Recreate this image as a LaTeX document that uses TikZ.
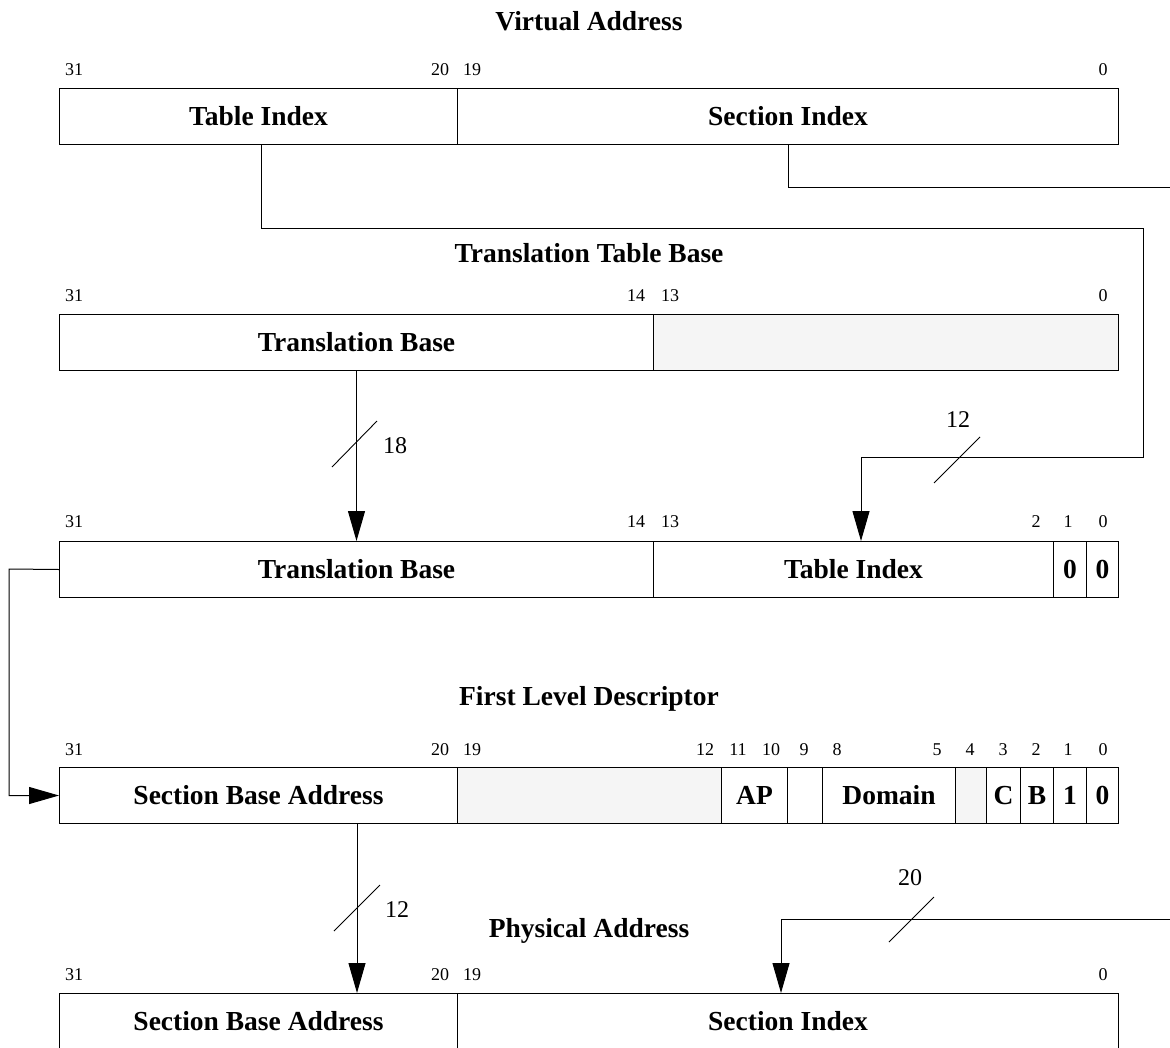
\documentclass[tikz,border=0pt]{standalone}
\usepackage{fontspec}
\setmainfont{Liberation Serif}
\usetikzlibrary{arrows.meta,calc}
\definecolor{fillg}{RGB}{245,245,245}
\begin{document}
\begin{tikzpicture}[x=1pt,y=-1pt,
  field/.style={draw, line width=1pt, minimum height=56pt, inner sep=0pt,
    text height=18pt, text depth=0pt, anchor=north west,
    font=\fontsize{27.5}{30}\selectfont\bfseries},
  grayf/.style={field, fill=fillg},
  bit/.style={anchor=base, inner sep=0pt, font=\fontsize{18}{20}\selectfont},
  title/.style={anchor=base, inner sep=0pt, font=\fontsize{27.5}{30}\selectfont\bfseries},
  bus/.style={anchor=base, inner sep=0pt, font=\fontsize{24}{28}\selectfont},
  conn/.style={line width=1pt},
  arr/.style={line width=1pt, -{Triangle[length=30pt,width=17pt]}},
  slash/.style={line width=0.9pt}]
\useasboundingbox (0,0) rectangle (1170,1047);

% ---------- titles
\node[title] (t1) at (589,30) {Virtual Address};
\node[title] (t2) at (589,262) {Translation Table Base};
\node[title] (t4) at (589,705) {First Level Descriptor};
\node[title] (t5) at (589,937) {Physical Address};

% ---------- row 1 : virtual address
\node[field, minimum width=398pt] (A1) at (59,88) {Table Index};
\node[field, minimum width=661pt] (A2) at (457,88) {Section Index};
\node[bit] (a31) at (74,75) {31};
\node[bit] (a20) at (440,75) {20};
\node[bit] (a19) at (472,75) {19};
\node[bit] (a0) at (1103,75) {0};

% ---------- row 2 : translation table base
\node[field, minimum width=594pt] (B1) at (59,314) {Translation Base};
\node[grayf, minimum width=465pt] (B2) at (653,314) {};
\node[bit] (b31) at (74,301) {31};
\node[bit] (b14) at (636,301) {14};
\node[bit] (b13) at (670,301) {13};
\node[bit] (b0) at (1103,301) {0};

% ---------- row 3
\node[field, minimum width=594pt] (C1) at (59,541) {Translation Base};
\node[field, minimum width=400pt] (C2) at (653,541) {Table Index};
\node[field, minimum width=33pt] (C3) at (1053,541) {0};
\node[field, minimum width=32pt] (C4) at (1086,541) {0};
\node[bit] (c31) at (74,527) {31};
\node[bit] (c14) at (636,527) {14};
\node[bit] (c13) at (670,527) {13};
\node[bit] (c2) at (1036,527) {2};
\node[bit] (c1) at (1068,527) {1};
\node[bit] (c0) at (1103,527) {0};

% ---------- row 4 : first level descriptor
\node[field, minimum width=398pt] (D1) at (59,767) {Section Base Address};
\node[grayf, minimum width=264pt] (D2) at (457,767) {};
\node[field, minimum width=66pt] (D3) at (721,767) {AP};
\node[field, minimum width=35pt] (D4) at (787,767) {};
\node[field, minimum width=133pt] (D5) at (822,767) {Domain};
\node[grayf, minimum width=31pt] (D6) at (955,767) {};
\node[field, minimum width=34pt] (D7) at (986,767) {C};
\node[field, minimum width=33pt] (D8) at (1020,767) {B};
\node[field, minimum width=33pt] (D9) at (1053,767) {1};
\node[field, minimum width=32pt] (D10) at (1086,767) {0};
\node[bit] (d31) at (74,755) {31};
\node[bit] (d20) at (440,755) {20};
\node[bit] (d19) at (472,755) {19};
\node[bit] (d12) at (705,755) {12};
\node[bit] (d11) at (738,755) {11};
\node[bit] (d10) at (771,755) {10};
\node[bit] (d9) at (804,755) {9};
\node[bit] (d8) at (837,755) {8};
\node[bit] (d5) at (937,755) {5};
\node[bit] (d4) at (970,755) {4};
\node[bit] (d3) at (1003,755) {3};
\node[bit] (d2) at (1036,755) {2};
\node[bit] (d1) at (1068,755) {1};
\node[bit] (d0) at (1103,755) {0};

% ---------- row 5 : physical address
\node[field, minimum width=398pt] (E1) at (59,993) {Section Base Address};
\node[field, minimum width=661pt] (E2) at (457,993) {Section Index};
\node[bit] (e31) at (74,980) {31};
\node[bit] (e20) at (440,980) {20};
\node[bit] (e19) at (472,980) {19};
\node[bit] (e0) at (1103,980) {0};

% ---------- connectors
\coordinate (p1) at (261,228);
\coordinate (p2) at (1143,228);
\coordinate (p3) at (1143,457);
\coordinate (p4) at (861,457);
\draw[arr] (A1.south -| p1) -- (p1) -- (p2) -- (p3) -- (p4) -- (C2.north -| p4);

\coordinate (q1) at (1180,187);
\draw[conn] (A2.south) |- (q1);

\draw[arr] (B1.south) -- (C1.north -| B1.south);

\coordinate (l1) at (9,569);
\draw[arr] (C1.west) -- (l1) |- (D1.west);

\coordinate (s1) at (357,823);
\draw[arr] (D1.south -| s1) -- (E1.north -| s1);

\coordinate (q2) at (1180,919);
\coordinate (q3) at (781,919);
\draw[arr] (q2) -- (q3) -- (E2.north -| q3);

% ---------- bus width marks
\draw[slash] (332,467) -- (377,421);
\node[bus] (n18) at (395,453) {18};
\draw[slash] (934,483) -- (980,437);
\node[bus] (n12a) at (958,427) {12};
\draw[slash] (334,931) -- (380,885);
\node[bus] (n12b) at (397,917) {12};
\draw[slash] (889,942) -- (934,897);
\node[bus] (n20) at (910,885) {20};
\end{tikzpicture}
\end{document}
